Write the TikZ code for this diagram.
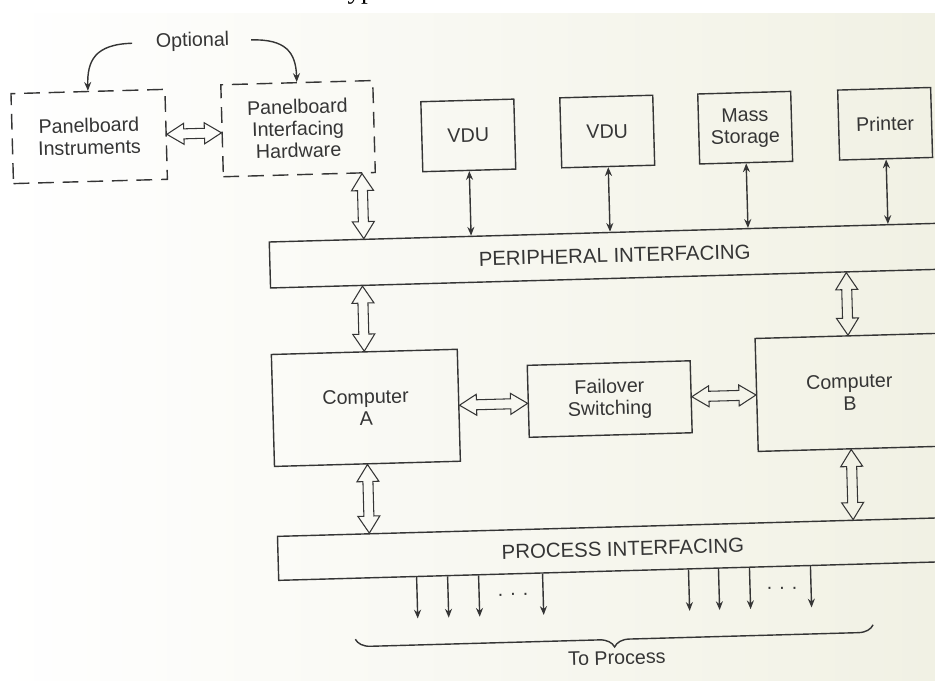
\documentclass[tikz,border=0pt]{standalone}
\usepackage{fontspec}
\setmainfont{Liberation Sans}
\newfontfamily\bookfont{Liberation Serif}
\usetikzlibrary{calc,arrows.meta,decorations.pathreplacing}

\definecolor{ink}{HTML}{353535}
\definecolor{paper}{HTML}{F1F1E4}

\tikzset{
  unit/.style={draw=ink, line width=0.8pt, align=center, text=ink, inner sep=2pt,
    font=\fontsize{11.2}{12.5}\selectfont},
  optunit/.style={unit, dash pattern=on 9pt off 5pt},
  bar/.style={unit, minimum width=13.8cm, font=\fontsize{11.6}{13}\selectfont},
  tag/.style={text=ink, font=\fontsize{11.2}{12.5}\selectfont},
  bus/.style={draw=ink, line width=0.6pt, line join=miter},
  link/.style={draw=ink, line width=0.8pt,
    {Stealth[length=5pt,width=4pt]}-{Stealth[length=5pt,width=4pt]}},
  signal/.style={draw=ink, line width=0.8pt, -{Stealth[length=5pt,width=4pt]}},
}

% wide hollow two-way arrows (data buses)
\newcommand{\vbus}[2]{% #1 upper tip, #2 lower tip
  \draw[bus] (#1) -- ++(-11,17) -- ++(6,0) -- ($(#2)+(-5,-17)$) -- ++(-6,0) -- (#2)
    -- ++(11,-17) -- ++(-6,0) -- ($(#1)+(5,17)$) -- ++(6,0) -- cycle;}
\newcommand{\hbus}[2]{% #1 left tip, #2 right tip
  \draw[bus] (#1) -- ++(17,-10.5) -- ++(0,5.5) -- ($(#2)+(-17,-5)$) -- ++(0,-5.5) -- (#2)
    -- ++(-17,10.5) -- ++(0,-5.5) -- ($(#1)+(17,5)$) -- ++(0,5.5) -- cycle;}

\begin{document}
\begin{tikzpicture}[x=0.02cm, y=-0.02cm]
  \useasboundingbox (0,0) rectangle (935,680);
  \shade[left color=white, right color=paper] (0,13) rectangle (935,680);

  % last line of the running text above
  \begin{scope}
    \clip (0,0) rectangle (935,9);
    \node[anchor=base west, inner sep=0pt, font=\bookfont\fontsize{15.5}{18}\selectfont]
      (textline) at (25,-2) {would occur as well as what type of error has occurred.};
  \end{scope}

  \begin{scope}[transform canvas={rotate around={1.6:(467,340)}}]
    % optional panelboard part
    \node[tag] (opt) at (201,34) {Optional};
    \node[optunit, minimum width=3.08cm, minimum height=1.8cm] (inst) at (95,126)
      {Panelboard\\Instruments};
    \node[optunit, minimum width=3.04cm, minimum height=1.84cm] (hwif) at (304,124)
      {Panelboard\\Interfacing\\Hardware};
    \draw[signal, shorten <=10pt] (opt.west) .. controls +(-55,0) and +(0,-30) .. (inst.north);
    \draw[signal, shorten <=9pt] (opt.east) .. controls +(50,0) and +(0,-30) .. (hwif.north);
    \hbus{inst.east}{inst.east -| hwif.west}

    % peripherals
    \node[unit, minimum width=1.86cm, minimum height=1.4cm] (vdua) at (474,135.5) {VDU};
    \node[unit, minimum width=1.86cm, minimum height=1.4cm] (vdub) at (613,135.5) {VDU};
    \node[unit, minimum width=1.86cm, minimum height=1.4cm] (store) at (751,135.5) {Mass\\Storage};
    \node[unit, minimum width=1.86cm, minimum height=1.4cm] (printer) at (891,135.5) {Printer};

    \node[bar, minimum height=0.92cm] (periph) at (617,259.5) {PERIPHERAL INTERFACING};
    \foreach \p in {vdua,vdub,store,printer}
      \draw[link] (\p.south) -- (\p.south |- periph.north);
    \coordinate (hwbus) at ($(hwif.south east)+(-14,0)$);
    \vbus{hwbus}{hwbus |- periph.north}

    % the two computers
    \node[unit, minimum width=3.72cm, minimum height=2.24cm] (compA) at (364,405) {Computer\\A};
    \node[unit, minimum width=3.26cm, minimum height=1.44cm] (failover) at (608,403) {Failover\\Switching};
    \node[unit, minimum width=3.72cm, minimum height=2.26cm] (compB) at (848,403) {Computer\\B};
    \vbus{compA.north |- periph.south}{compA.north}
    \vbus{compB.north |- periph.south}{compB.north}
    \hbus{compA.east}{compA.east -| failover.west}
    \hbus{failover.east}{failover.east -| compB.west}

    \node[bar, minimum height=0.88cm] (process) at (617,553) {PROCESS INTERFACING};
    \vbus{compA.south}{compA.south |- process.north}
    \vbus{compB.south}{compB.south |- process.north}

    % lines out to the plant
    \foreach \x in {410,441,472,536,682,712,743,804}
      \draw[signal] (\x,0 |- process.south) -- (\x,617);
    \node[tag, anchor=base] (dotsa) at (506,597) {.\hspace{4pt}.\hspace{4pt}.};
    \node[tag, anchor=base] (dotsb) at (775,598) {.\hspace{4pt}.\hspace{4pt}.};

    \coordinate (braceL) at (347,636);
    \coordinate (braceR) at (865,636);
    \draw[ink, line width=0.8pt, decorate, decoration={brace, mirror, amplitude=8.5pt}]
      (braceL) -- (braceR);
    \node[tag] (toproc) at (608,662) {To Process};
  \end{scope}
\end{tikzpicture}
\end{document}
